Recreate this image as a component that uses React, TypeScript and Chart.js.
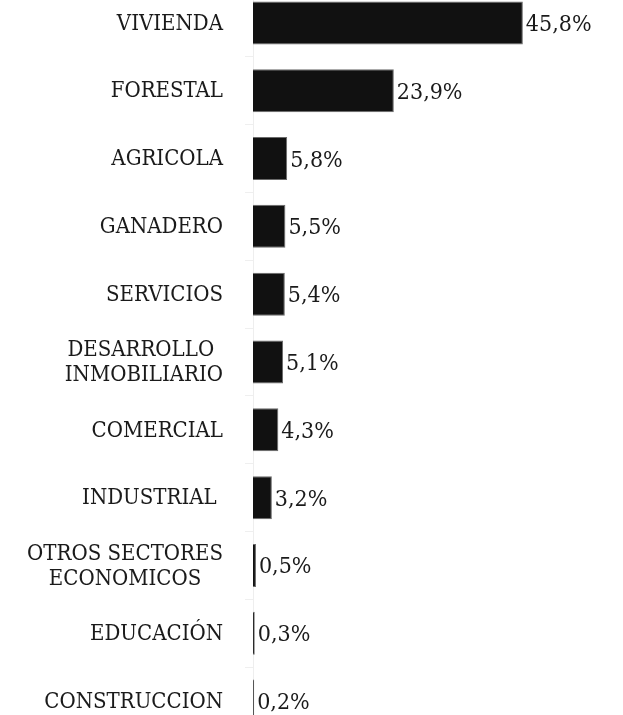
import React, { useEffect, useRef } from "react";
import { Chart, registerables } from "chart.js";

Chart.register(...registerables);

const categories: string[][] = [
  ["VIVIENDA"],
  ["FORESTAL"],
  ["AGRICOLA"],
  ["GANADERO"],
  ["SERVICIOS"],
  ["DESARROLLO ", "INMOBILIARIO"],
  ["COMERCIAL"],
  ["INDUSTRIAL "],
  ["OTROS SECTORES", "ECONOMICOS"],
  ["EDUCACIÓN"],
  ["CONSTRUCCION"],
];
const values: number[] = [45.8, 23.9, 5.8, 5.5, 5.4, 5.1, 4.3, 3.2, 0.5, 0.3, 0.2];
const valueLabels: string[] = ["45,8%", "23,9%", "5,8%", "5,5%", "5,4%", "5,1%", "4,3%", "3,2%", "0,5%", "0,3%", "0,2%"];

const FONT = "22px 'DejaVu Serif Condensed', 'DejaVu Serif', serif";
const VALUE_FONT = "23px 'DejaVu Serif Condensed', 'DejaVu Serif', serif";

const labelPlugin = {
  id: "customLabels",
  afterDatasetsDraw(chart: any) {
    const ctx = chart.ctx;
    const meta = chart.getDatasetMeta(0);
    const yScale = chart.scales.y;
    ctx.save();
    ctx.fillStyle = "#1a1a1a";
    ctx.textBaseline = "middle";
    // value labels
    ctx.font = VALUE_FONT;
    ctx.textAlign = "left";
    meta.data.forEach((bar: any, i: number) => {
      ctx.fillText(valueLabels[i], bar.x + 3, bar.y + 2);
    });
    // category labels
    ctx.font = FONT;
    const rightEdge = 223;
    const lineH = 25;
    categories.forEach((lines, i) => {
      const yc = yScale.getPixelForValue(i);
      const w = Math.max(...lines.map((l) => ctx.measureText(l).width));
      const cx = rightEdge - w / 2;
      ctx.textAlign = "center";
      lines.forEach((l, j) => {
        const y = yc + (j - (lines.length - 1) / 2) * lineH + 1;
        ctx.fillText(l, cx, y);
      });
    });
    ctx.restore();
  },
};

export default function App() {
  const ref = useRef<HTMLCanvasElement | null>(null);
  useEffect(() => {
    if (!ref.current) return;
    const chart = new Chart(ref.current, {
      type: "bar",
      data: {
        labels: categories.map((c) => c.join(" ")),
        datasets: [
          {
            data: values,
            backgroundColor: "#111111",
            borderColor: "#6a6a6a",
            borderWidth: 1,
            categoryPercentage: 1,
            barPercentage: 0.634,
          },
        ],
      },
      options: {
        indexAxis: "y",
        animation: false,
        responsive: true,
        maintainAspectRatio: false,
        layout: { padding: 0 },
        plugins: { legend: { display: false }, tooltip: { enabled: false } },
        scales: {
          x: { display: false, min: 0, max: 62.8 },
          y: {
            display: true,
            afterFit: (scale: any) => {
              scale.width = 253;
            },
            ticks: { display: false },
            grid: {
              display: true,
              drawOnChartArea: false,
              drawTicks: true,
              tickLength: 8,
              color: "#efefef",
              offset: true,
            },
            border: { display: true, color: "#eeeeee" },
          },
        },
      },
      plugins: [labelPlugin],
    });
    return () => chart.destroy();
  }, []);
  return (
    <div style={{ position: "fixed", top: -11, left: 0, width: 623, height: 746 }}>
      <canvas ref={ref} />
    </div>
  );
}
